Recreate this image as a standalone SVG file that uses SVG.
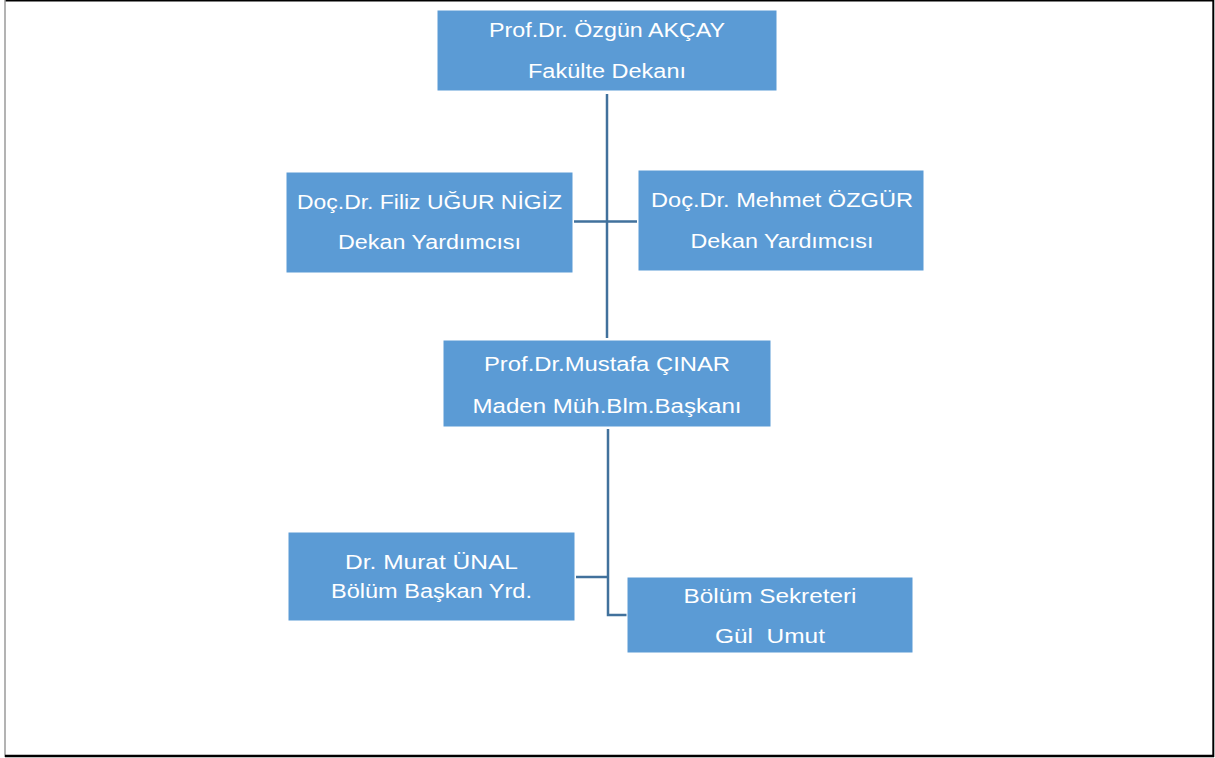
<svg xmlns="http://www.w3.org/2000/svg" width="1215" height="758" viewBox="0 0 1215 758">
<style>
.box{fill:#5B9BD5;stroke:#ffffff;stroke-width:1}
.t{font-family:"Liberation Sans",Arial,sans-serif;font-size:20px;fill:#ffffff;text-anchor:middle}
.c{fill:none;stroke:#41719C;stroke-width:2.5}
</style>
<rect x="0" y="0" width="1215" height="758" fill="#ffffff"/>
<g id="border">
<line x1="5" y1="0.7" x2="1214" y2="0.7" stroke="#000" stroke-width="1.5"/>
<line x1="5" y1="0" x2="5" y2="757" stroke="#9a9a9a" stroke-width="1.5"/>
<line x1="1213.3" y1="0" x2="1213.3" y2="757" stroke="#000" stroke-width="2"/>
<line x1="5" y1="756" x2="1214" y2="756" stroke="#000" stroke-width="2.5"/>
</g>
<g id="connectors">
<path class="c" d="M607 94 V338"/>
<path class="c" d="M574 221.5 H637"/>
<path class="c" d="M608 429 V615 H627"/>
<path class="c" d="M576 577 H608"/>
</g>
<g id="dean">
<rect class="box" x="437" y="10" width="340" height="81"/>
<text class="t" x="607" y="37" textLength="236" lengthAdjust="spacingAndGlyphs">Prof.Dr. Özgün AKÇAY</text>
<text class="t" x="607" y="78" textLength="158" lengthAdjust="spacingAndGlyphs">Fakülte Dekanı</text>
</g>
<g id="deputy1">
<rect class="box" x="286" y="172" width="287" height="101"/>
<text class="t" x="429.5" y="209" textLength="265" lengthAdjust="spacingAndGlyphs">Doç.Dr. Filiz UĞUR NİGİZ</text>
<text class="t" x="429.5" y="249" textLength="183" lengthAdjust="spacingAndGlyphs">Dekan Yardımcısı</text>
</g>
<g id="deputy2">
<rect class="box" x="638" y="170" width="286" height="101"/>
<text class="t" x="782" y="207" textLength="262" lengthAdjust="spacingAndGlyphs">Doç.Dr. Mehmet ÖZGÜR</text>
<text class="t" x="782" y="248" textLength="183" lengthAdjust="spacingAndGlyphs">Dekan Yardımcısı</text>
</g>
<g id="head">
<rect class="box" x="443" y="340" width="328" height="87"/>
<text class="t" x="607" y="371" textLength="246" lengthAdjust="spacingAndGlyphs">Prof.Dr.Mustafa ÇINAR</text>
<text class="t" x="607" y="413" textLength="269" lengthAdjust="spacingAndGlyphs">Maden Müh.Blm.Başkanı</text>
</g>
<g id="vicehead">
<rect class="box" x="288" y="532" width="287" height="89"/>
<text class="t" x="431.5" y="569" textLength="173" lengthAdjust="spacingAndGlyphs">Dr. Murat ÜNAL</text>
<text class="t" x="431.5" y="598" textLength="201" lengthAdjust="spacingAndGlyphs">Bölüm Başkan Yrd.</text>
</g>
<g id="secretary">
<rect class="box" x="627" y="577" width="286" height="76"/>
<text class="t" x="770" y="603" textLength="173" lengthAdjust="spacingAndGlyphs">Bölüm Sekreteri</text>
<text class="t" x="770" y="643" textLength="110" lengthAdjust="spacingAndGlyphs" xml:space="preserve" style="white-space:pre">Gül  Umut</text>
</g>
</svg>
